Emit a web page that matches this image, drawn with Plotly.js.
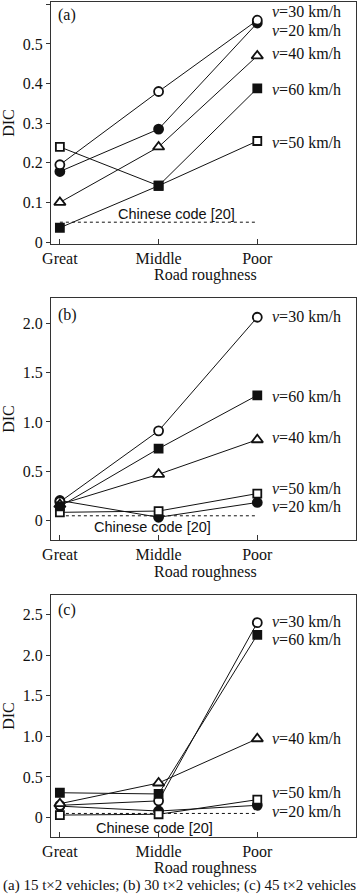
<!DOCTYPE html>
<html>
<head>
<meta charset="utf-8">
<script src="https://cdn.plot.ly/plotly-3.0.1.min.js"></script>
<style>html,body{margin:0;padding:0;background:#fff;}#chart{width:358px;height:894px;}</style>
</head>
<body>
<div id="chart"></div>
<script>
// ---- data ----
const categories = ["Great", "Middle", "Poor"];
const speeds = ["20", "30", "40", "50", "60"];
const codeLimit = 0.05;

// panel (a) 15 t×2 vehicles
const a20 = [0.178, 0.285, 0.553];
const a30 = [0.195, 0.380, 0.560];
const a40 = [0.100, 0.240, 0.470];
const a50 = [0.240, 0.142, 0.255];
const a60 = [0.036, 0.142, 0.388];

// panel (b) 30 t×2 vehicles
const b20 = [0.205, 0.035, 0.185];
const b30 = [0.190, 0.910, 2.060];
const b40 = [0.165, 0.470, 0.820];
const b50 = [0.085, 0.098, 0.275];
const b60 = [0.145, 0.730, 1.270];

// panel (c) 45 t×2 vehicles
const c20 = [0.140, 0.080, 0.150];
const c30 = [0.150, 0.205, 2.400];
const c40 = [0.170, 0.425, 0.970];
const c50 = [0.030, 0.040, 0.220];
const c60 = [0.305, 0.290, 2.250];

// tick labels
const yTicksA = [0, 0.1, 0.2, 0.3, 0.4, 0.5, 0.6];
const yTickTextA = ["0", "0.1", "0.2", "0.3", "0.4", "0.5", "0.6"];
const yTicksB = [0, 0.5, 1.0, 1.5, 2.0];
const yTickTextB = ["0", "0.5", "1.0", "1.5", "2.0"];
const yTicksC = [0, 0.5, 1.0, 1.5, 2.0, 2.5];
const yTickTextC = ["0", "0.5", "1.0", "1.5", "2.0", "2.5"];

const panelLetters = ["(a)", "(b)", "(c)"];
const codeText = "Chinese code [20]";
const xTitle = "Road roughness";
const yTitle = "DIC";
const caption = "(a) 15 t×2 vehicles; (b) 30 t×2 vehicles; (c) 45 t×2 vehicles";

// label positions (y in data units) for the speed labels at right
const labelYA = {"30": 0.581, "20": 0.535, "40": 0.477, "60": 0.386, "50": 0.252};
const labelYB = {"30": 2.063, "60": 1.253, "40": 0.838, "50": 0.322, "20": 0.140};
const labelYC = {"30": 2.419, "60": 2.197, "40": 0.977, "50": 0.302, "20": 0.068};

// ---- styles ----
const serif = "Liberation Serif, Times New Roman, serif";
const sans = "Liberation Sans, Arial, sans-serif";
const ink = "#111";
const markerStyle = {
  "20": {symbol: "circle", color: ink, size: 9},
  "30": {symbol: "circle", color: "#fff", size: 9},
  "40": {symbol: "triangle-up", color: "#fff", size: 10},
  "50": {symbol: "square", color: "#fff", size: 8},
  "60": {symbol: "square", color: ink, size: 8}
};

const panels = [
  {series: {"20": a20, "30": a30, "40": a40, "50": a50, "60": a60}, xa: "x", ya: "y",
   range: [-0.005, 0.606], tv: yTicksA, tt: yTickTextA, labels: labelYA,
   codePos: [1.186, 0.071], letterY: 0.573, titleY: -0.130},
  {series: {"20": b20, "30": b30, "40": b40, "50": b50, "60": b60}, xa: "x2", ya: "y2",
   range: [-0.195, 2.255], tv: yTicksB, tt: yTickTextB, labels: labelYB,
   codePos: [0.943, -0.063], letterY: 2.083, titleY: -0.134},
  {series: {"20": c20, "30": c30, "40": c40, "50": c50, "60": c60}, xa: "x3", ya: "y3",
   range: [-0.24, 2.74], tv: yTicksC, tt: yTickTextC, labels: labelYC,
   codePos: [0.958, -0.124], letterY: 2.555, titleY: -0.127}
];

const traces = [];
const annotations = [];
panels.forEach((p, i) => {
  // code limit dashed line
  traces.push({
    x: [categories[0], categories[2]], y: [codeLimit, codeLimit],
    xaxis: p.xa, yaxis: p.ya, mode: "lines", hoverinfo: "skip",
    line: {color: ink, width: 1, dash: "3px,3px"}, showlegend: false
  });
  speeds.forEach(s => {
    const m = markerStyle[s];
    traces.push({
      x: categories, y: p.series[s], xaxis: p.xa, yaxis: p.ya,
      mode: "lines+markers", name: "v=" + s + " km/h", showlegend: false,
      line: {color: ink, width: 1},
      marker: {symbol: m.symbol, size: m.size, color: m.color, line: {color: ink, width: 1.8}}
    });
    annotations.push({
      xref: p.xa, yref: p.ya, x: 2.13, y: p.labels[s], xanchor: "left", yanchor: "middle",
      text: "<i>v</i>=" + s + " km/h", showarrow: false,
      font: {family: serif, size: 16, color: ink}
    });
  });
  annotations.push({
    xref: p.xa, yref: p.ya, x: p.codePos[0], y: p.codePos[1], xanchor: "center", yanchor: "middle",
    text: codeText, showarrow: false, font: {family: sans, size: 14.5, color: ink}
  });
  annotations.push({
    xref: p.xa, yref: p.ya, x: -0.035, y: p.letterY, xanchor: "left", yanchor: "middle",
    text: panelLetters[i], showarrow: false, font: {family: serif, size: 16, color: ink}
  });
  // x-axis title
  annotations.push({
    xref: p.xa, yref: p.ya + " domain", x: 1.475, y: p.titleY, xanchor: "center", yanchor: "middle",
    text: xTitle, showarrow: false, font: {family: serif, size: 16, color: ink}
  });
});

annotations.push({
  xref: "paper", yref: "paper", x: 0.42, y: -0.0575, xanchor: "center", yanchor: "middle",
  text: caption, showarrow: false, font: {family: serif, size: 15, color: ink}
});

function xAxis(anchor) {
  return {
    type: "category", categoryorder: "array", categoryarray: categories,
    range: [-0.09, 3.0], anchor: anchor,
    showline: true, mirror: true, linecolor: "#333", linewidth: 1,
    ticks: "inside", ticklen: 5, tickcolor: "#333", showgrid: false, zeroline: false,
    tickfont: {family: serif, size: 16, color: ink},
    fixedrange: true
  };
}
function yAxis(p, anchor, domain) {
  return {
    range: p.range, domain: domain, anchor: anchor,
    tickmode: "array", tickvals: p.tv, ticktext: p.tt,
    showline: true, mirror: true, linecolor: "#333", linewidth: 1,
    ticks: "outside", ticklen: 4, tickcolor: "#333", showgrid: false, zeroline: false,
    tickfont: {family: serif, size: 16, color: ink},
    title: {text: yTitle, font: {family: serif, size: 16, color: ink}, standoff: 5},
    fixedrange: true
  };
}

const layout = {
  width: 358, height: 894,
  margin: {l: 51, r: 2, t: 2, b: 57},
  paper_bgcolor: "#fff", plot_bgcolor: "#fff",
  showlegend: false,
  xaxis: xAxis("y"),
  xaxis2: xAxis("y2"),
  xaxis3: xAxis("y3"),
  yaxis: yAxis(panels[0], "x", [0.7102, 1.0]),
  yaxis2: yAxis(panels[1], "x2", [0.3557, 0.6455]),
  yaxis3: yAxis(panels[2], "x3", [0.0, 0.2898]),
  annotations: annotations
};

Plotly.newPlot("chart", traces, layout, {displayModeBar: false, staticPlot: true});
</script>
</body>
</html>
